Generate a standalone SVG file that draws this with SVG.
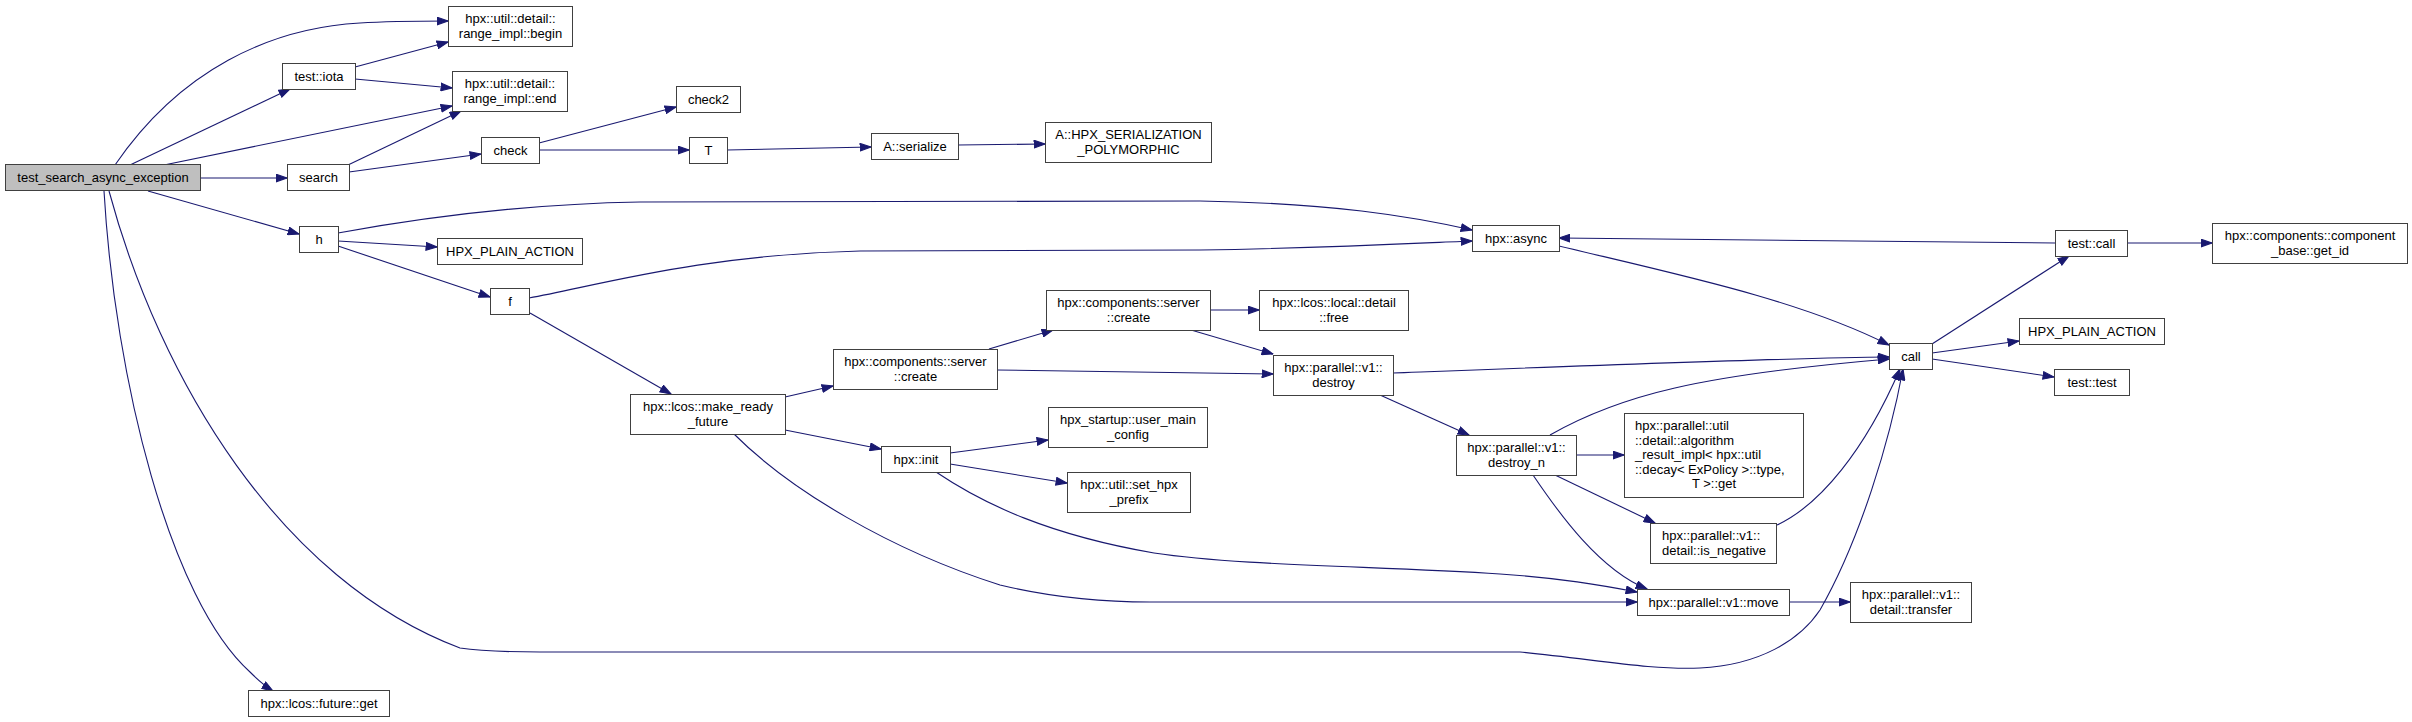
<svg xmlns="http://www.w3.org/2000/svg" width="2412" height="722" viewBox="0 0 2412 722">
<style>
.n rect{fill:#ffffff;stroke:#404040;stroke-width:1}
.root rect{fill:#bfbfbf}
text{font-family:"Liberation Sans",Arial,Helvetica,sans-serif;font-size:13px;fill:#000000}
.c{text-anchor:middle}
#edges path{fill:none;stroke:#191970;stroke-width:1.1;marker-end:url(#arr)}
</style>
<defs>
<marker id="arr" markerUnits="userSpaceOnUse" markerWidth="12" markerHeight="9" viewBox="0 0 11 8" refX="10.5" refY="4" orient="auto">
<path d="M0.5,0.5 L10.5,4 L0.5,7.5 z" fill="#191970" stroke="#191970" stroke-width="1"/>
</marker>
</defs>
<rect x="0" y="0" width="2412" height="722" fill="#ffffff"/>
<g id="edges">
<path d="M115,165 C180,70 270,28 360,23 C390,21 420,21 448,21"/>
<path d="M130,165 L290,89"/>
<path d="M164,165 L452,106"/>
<path d="M200,178 L287,178"/>
<path d="M148,191 L299,234"/>
<path d="M109,191 C160,380 280,580 460,648 C480,651 500,652 540,652 L1520,652 C1600,660 1650,670 1700,668 C1760,665 1800,640 1820,610 C1860,540 1890,440 1903,369"/>
<path d="M104,191 C115,380 170,600 250,672 C258,680 265,686 273,691"/>
<path d="M355,67 L448,42"/>
<path d="M355,79 L452,88"/>
<path d="M348,165 L461,111"/>
<path d="M349,172 L481,154"/>
<path d="M539,143 L676,107"/>
<path d="M539,150 L689,150"/>
<path d="M727,150 L871,147"/>
<path d="M958,145 L1045,144"/>
<path d="M338,233 C420,218 520,204 640,202 L1200,201 C1330,203 1410,216 1472,230"/>
<path d="M338,241 L437,247"/>
<path d="M338,246 L490,297"/>
<path d="M529,298 C600,285 700,255 860,251 L1200,250 C1330,248 1420,243 1472,241"/>
<path d="M530,313 L671,394"/>
<path d="M785,397 L833,386"/>
<path d="M785,430 L881,449"/>
<path d="M734,434 C790,490 890,550 1000,585 C1050,597 1100,602 1150,602 L1637,602"/>
<path d="M989,349 L1053,330"/>
<path d="M997,370 C1100,372 1200,373 1273,374"/>
<path d="M1210,310 L1259,310"/>
<path d="M1191,330 L1273,354"/>
<path d="M1393,373 C1550,367 1780,358 1889,357"/>
<path d="M1380,395 L1469,435"/>
<path d="M1559,246 C1680,275 1800,300 1889,345"/>
<path d="M950,453 L1048,440"/>
<path d="M950,464 L1067,483"/>
<path d="M936,472 C985,505 1050,535 1154,553 C1240,566 1380,566 1500,574 C1560,578 1600,585 1637,592"/>
<path d="M1550,435 C1620,395 1700,375 1889,359"/>
<path d="M1576,455 L1624,455"/>
<path d="M1555,475 L1655,523"/>
<path d="M1533,475 C1560,515 1600,570 1647,589"/>
<path d="M1777,525 C1820,505 1865,450 1900,369"/>
<path d="M1789,602 L1850,602"/>
<path d="M1932,344 L2069,256"/>
<path d="M1932,353 L2019,341"/>
<path d="M1932,359 L2054,377"/>
<path d="M2055,243 L1559,238"/>
<path d="M2127,243 L2212,243"/>
</g>
<g id="n_root" class="n root"><rect x="5.5" y="164.5" width="195" height="26"/><text class="c" x="103" y="182">test_search_async_exception</text></g>
<g id="n_range_begin" class="n"><rect x="448.5" y="6.5" width="124" height="40"/><text class="c" x="510.5" y="23">hpx::util::detail::</text><text class="c" x="510.5" y="37.5">range_impl::begin</text></g>
<g id="n_iota" class="n"><rect x="282.5" y="63.5" width="73" height="26"/><text class="c" x="319" y="81">test::iota</text></g>
<g id="n_range_end" class="n"><rect x="452.5" y="71.5" width="115" height="40"/><text class="c" x="510" y="88">hpx::util::detail::</text><text class="c" x="510" y="102.5">range_impl::end</text></g>
<g id="n_search" class="n"><rect x="287.5" y="164.5" width="62" height="26"/><text class="c" x="318.5" y="182">search</text></g>
<g id="n_check" class="n"><rect x="481.5" y="137.5" width="58" height="26"/><text class="c" x="510.5" y="155">check</text></g>
<g id="n_check2" class="n"><rect x="676.5" y="86.5" width="64" height="26"/><text class="c" x="708.5" y="104">check2</text></g>
<g id="n_T" class="n"><rect x="689.5" y="137.5" width="38" height="26"/><text class="c" x="708.5" y="155">T</text></g>
<g id="n_serialize" class="n"><rect x="871.5" y="133.5" width="87" height="26"/><text class="c" x="915" y="151">A::serialize</text></g>
<g id="n_hpx_ser" class="n"><rect x="1045.5" y="122.5" width="166" height="40"/><text class="c" x="1128.5" y="139">A::HPX_SERIALIZATION</text><text class="c" x="1128.5" y="153.5">_POLYMORPHIC</text></g>
<g id="n_h" class="n"><rect x="299.5" y="226.5" width="39" height="26"/><text class="c" x="319" y="244">h</text></g>
<g id="n_plain_action1" class="n"><rect x="437.5" y="238.5" width="145" height="26"/><text class="c" x="510" y="256">HPX_PLAIN_ACTION</text></g>
<g id="n_f" class="n"><rect x="490.5" y="288.5" width="39" height="26"/><text class="c" x="510" y="306">f</text></g>
<g id="n_make_ready" class="n"><rect x="630.5" y="394.5" width="155" height="40"/><text class="c" x="708" y="411">hpx::lcos::make_ready</text><text class="c" x="708" y="425.5">_future</text></g>
<g id="n_create_lower" class="n"><rect x="833.5" y="349.5" width="164" height="40"/><text class="c" x="915.5" y="366">hpx::components::server</text><text class="c" x="915.5" y="380.5">::create</text></g>
<g id="n_create_upper" class="n"><rect x="1046.5" y="290.5" width="164" height="40"/><text class="c" x="1128.5" y="307">hpx::components::server</text><text class="c" x="1128.5" y="321.5">::create</text></g>
<g id="n_free" class="n"><rect x="1259.5" y="290.5" width="149" height="40"/><text class="c" x="1334" y="307">hpx::lcos::local::detail</text><text class="c" x="1334" y="321.5">::free</text></g>
<g id="n_destroy" class="n"><rect x="1273.5" y="355.5" width="120" height="40"/><text class="c" x="1333.5" y="372">hpx::parallel::v1::</text><text class="c" x="1333.5" y="386.5">destroy</text></g>
<g id="n_async" class="n"><rect x="1472.5" y="225.5" width="87" height="26"/><text class="c" x="1516" y="243">hpx::async</text></g>
<g id="n_init" class="n"><rect x="881.5" y="446.5" width="69" height="26"/><text class="c" x="916" y="464">hpx::init</text></g>
<g id="n_user_main" class="n"><rect x="1048.5" y="407.5" width="159" height="40"/><text class="c" x="1128" y="424">hpx_startup::user_main</text><text class="c" x="1128" y="438.5">_config</text></g>
<g id="n_prefix" class="n"><rect x="1067.5" y="472.5" width="123" height="40"/><text class="c" x="1129" y="489">hpx::util::set_hpx</text><text class="c" x="1129" y="503.5">_prefix</text></g>
<g id="n_destroy_n" class="n"><rect x="1456.5" y="435.5" width="120" height="40"/><text class="c" x="1516.5" y="452">hpx::parallel::v1::</text><text class="c" x="1516.5" y="466.5">destroy_n</text></g>
<g id="n_algorithm" class="n"><rect x="1624.5" y="413.5" width="179" height="84"/><text x="1635" y="430">hpx::parallel::util</text><text x="1635" y="444.5">::detail::algorithm</text><text x="1635" y="459">_result_impl&lt; hpx::util</text><text x="1635" y="473.5">::decay&lt; ExPolicy &gt;::type,</text><text class="c" x="1714" y="488">T &gt;::get</text></g>
<g id="n_is_negative" class="n"><rect x="1650.5" y="523.5" width="126" height="40"/><text x="1662" y="540">hpx::parallel::v1::</text><text x="1662" y="554.5">detail::is_negative</text></g>
<g id="n_move" class="n"><rect x="1637.5" y="589.5" width="152" height="26"/><text class="c" x="1713.5" y="607">hpx::parallel::v1::move</text></g>
<g id="n_transfer" class="n"><rect x="1850.5" y="582.5" width="121" height="40"/><text class="c" x="1911" y="599">hpx::parallel::v1::</text><text class="c" x="1911" y="613.5">detail::transfer</text></g>
<g id="n_call" class="n"><rect x="1889.5" y="343.5" width="43" height="26"/><text class="c" x="1911" y="361">call</text></g>
<g id="n_test_call" class="n"><rect x="2055.5" y="230.5" width="72" height="26"/><text class="c" x="2091.5" y="248">test::call</text></g>
<g id="n_get_id" class="n"><rect x="2212.5" y="223.5" width="195" height="40"/><text class="c" x="2310" y="240">hpx::components::component</text><text class="c" x="2310" y="254.5">_base::get_id</text></g>
<g id="n_plain_action2" class="n"><rect x="2019.5" y="318.5" width="145" height="26"/><text class="c" x="2092" y="336">HPX_PLAIN_ACTION</text></g>
<g id="n_test_test" class="n"><rect x="2054.5" y="369.5" width="75" height="26"/><text class="c" x="2092" y="387">test::test</text></g>
<g id="n_future_get" class="n"><rect x="248.5" y="690.5" width="141" height="26"/><text class="c" x="319" y="708">hpx::lcos::future::get</text></g>
</svg>
